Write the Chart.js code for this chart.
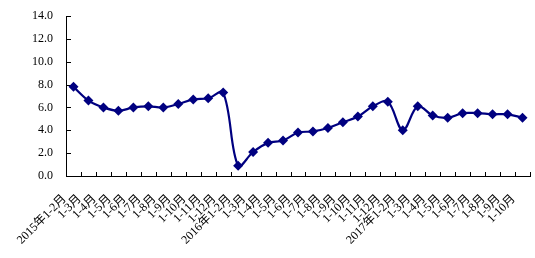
<!DOCTYPE html>
<html>
<head>
<meta charset="utf-8">
<script src="https://cdn.jsdelivr.net/npm/chart.js@4"></script>
<style>
    html, body { margin: 0; padding: 0; background: #fff; }
    #wrap { width: 535px; height: 258px; }
</style>
</head>
<body>
<div id="wrap"><canvas id="lineChart"></canvas></div>
<script>
// Data
const categories = [
    '2015年1-2月', '1-3月', '1-4月', '1-5月', '1-6月', '1-7月', '1-8月', '1-9月', '1-10月', '1-11月', '1-12月',
    '2016年1-2月', '1-3月', '1-4月', '1-5月', '1-6月', '1-7月', '1-8月', '1-9月', '1-10月', '1-11月', '1-12月',
    '2017年1-2月', '1-3月', '1-4月', '1-5月', '1-6月', '1-7月', '1-8月', '1-9月', '1-10月'
];
const growth = [
    7.8, 6.6, 6.0, 5.7, 6.0, 6.1, 6.0, 6.3, 6.7, 6.8, 7.3,
    0.9, 2.1, 2.9, 3.1, 3.8, 3.9, 4.2, 4.7, 5.2, 6.1, 6.5,
    4.0, 6.1, 5.3, 5.1, 5.5, 5.5, 5.4, 5.4, 5.1
];
const yTicks = [0, 2, 4, 6, 8, 10, 12, 14];

const navy = '#000080';

// small inward tick marks on both axes
const innerTicks = {
    id: 'innerTicks',
    beforeDatasetsDraw(chart) {
        const { ctx, scales: { x, y } } = chart;
        ctx.save();
        ctx.strokeStyle = '#000';
        ctx.lineWidth = 1;
        ctx.beginPath();
        yTicks.forEach(v => {
            const py = Math.round(y.getPixelForValue(v)) + 0.5;
            ctx.moveTo(x.left, py);
            ctx.lineTo(x.left + 5, py);
        });
        const step = x.getPixelForValue(1) - x.getPixelForValue(0);
        for (let i = 0; i <= categories.length; i++) {
            const px = Math.round(x.getPixelForValue(i) - step / 2) + 0.5;
            ctx.moveTo(px, y.bottom);
            ctx.lineTo(px, y.bottom - 4);
        }
        ctx.stroke();
        ctx.restore();
    }
};

new Chart(document.getElementById('lineChart'), {
    type: 'line',
    data: {
        labels: categories,
        datasets: [{
            data: growth,
            borderColor: navy,
            borderWidth: 2.2,
            backgroundColor: navy,
            pointStyle: 'rectRot',
            pointRadius: 5,
            pointBorderWidth: 0,
            pointBackgroundColor: navy,
            tension: 0.35,
            fill: false
        }]
    },
    options: {
        responsive: true,
        maintainAspectRatio: false,
        animation: false,
        layout: { padding: { left: 0, top: 16, right: 4, bottom: 0 } },
        plugins: {
            legend: { display: false },
            tooltip: { enabled: false }
        },
        scales: {
            x: {
                offset: true,
                grid: { display: false, drawTicks: false },
                border: { color: '#000', width: 1 },
                afterFit: scale => {
                    scale.height = 82;
                    scale.paddingLeft = 0;
                    scale.paddingRight = 0;
                },
                ticks: {
                    autoSkip: false,
                    minRotation: 45,
                    maxRotation: 45,
                    padding: 16,
                    labelOffset: -9,
                    color: '#000',
                    font: { family: "'Liberation Serif', 'Noto Sans CJK SC'", size: 12 }
                }
            },
            y: {
                min: 0,
                max: 14,
                grid: { display: false, drawTicks: false },
                border: { color: '#000', width: 1 },
                afterFit: scale => {
                    scale.width = 66;
                    scale.paddingTop = 0;
                    scale.paddingBottom = 0;
                },
                afterBuildTicks: scale => { scale.ticks = yTicks.map(v => ({ value: v })); },
                ticks: {
                    padding: 13,
                    color: '#000',
                    font: { family: "'Liberation Serif'", size: 12 },
                    callback: v => v.toFixed(1)
                }
            }
        }
    },
    plugins: [innerTicks]
});
</script>
</body>
</html>
